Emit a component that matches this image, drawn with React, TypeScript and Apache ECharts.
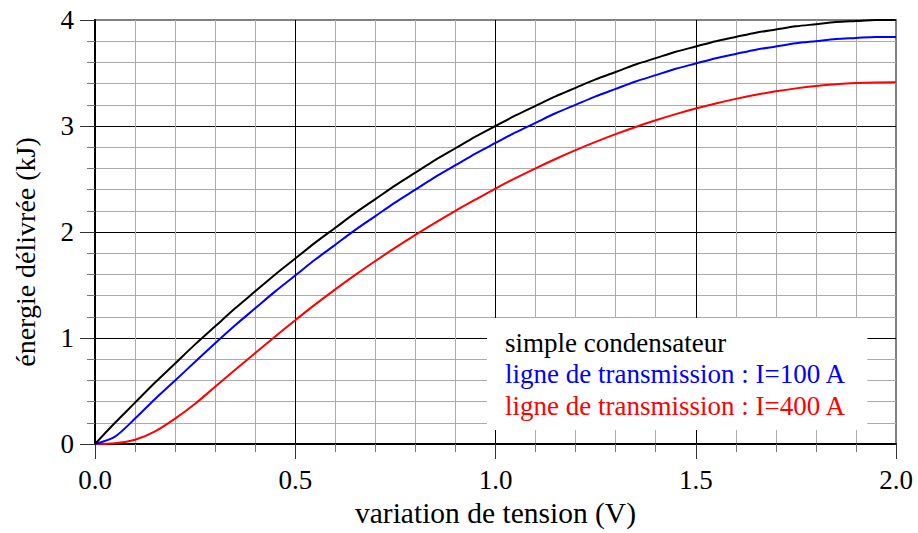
import React, { useEffect, useRef } from "react";
import * as echarts from "echarts";

// Tension variation (V) — sample abscissae (every 0.05 V)
const tension = [
  0, 0.05, 0.1, 0.15, 0.2, 0.25, 0.3, 0.35, 0.4, 0.45, 0.5, 0.55, 0.6, 0.65,
  0.7, 0.75, 0.8, 0.85, 0.9, 0.95, 1.0, 1.05, 1.1, 1.15, 1.2, 1.25, 1.3, 1.35,
  1.4, 1.45, 1.5, 1.55, 1.6, 1.65, 1.7, 1.75, 1.8, 1.85, 1.9, 1.95, 2.0,
];

// Energy delivered (kJ)
const simpleCondensateur = [
  0, 0.2, 0.39, 0.58, 0.76, 0.94, 1.11, 1.28, 1.44, 1.6, 1.75, 1.9, 2.04, 2.18,
  2.31, 2.44, 2.56, 2.68, 2.79, 2.9, 3.0, 3.1, 3.19, 3.28, 3.36, 3.44, 3.51,
  3.58, 3.64, 3.7, 3.75, 3.8, 3.84, 3.88, 3.91, 3.94, 3.96, 3.98, 3.99, 4.0, 4.0,
];
const ligne100 = [
  0, 0.07, 0.24, 0.425, 0.6, 0.775, 0.95, 1.12, 1.28, 1.44, 1.59, 1.74, 1.88,
  2.02, 2.15, 2.28, 2.4, 2.52, 2.63, 2.74, 2.84, 2.94, 3.03, 3.12, 3.2, 3.28,
  3.35, 3.42, 3.48, 3.54, 3.59, 3.64, 3.68, 3.72, 3.75, 3.78, 3.8, 3.82, 3.83,
  3.84, 3.84,
];
const ligne400 = [
  0, 0.006, 0.04, 0.12, 0.24, 0.38, 0.54, 0.7, 0.858, 1.014, 1.168, 1.317,
  1.459, 1.595, 1.726, 1.852, 1.973, 2.089, 2.2, 2.306, 2.41, 2.508, 2.601,
  2.689, 2.772, 2.85, 2.923, 2.991, 3.054, 3.112, 3.165, 3.213, 3.256, 3.294,
  3.327, 3.355, 3.378, 3.395, 3.406, 3.411, 3.412,
];

const seriesNames = [
  "simple condensateur",
  "ligne de transmission : I=100 A",
  "ligne de transmission : I=400 A",
];
const seriesColors = ["#000000", "#0000ff", "#ff0000"];

const xAxisTitle = "variation de tension (V)";
const yAxisTitle = "énergie délivrée (kJ)";

const FONT = "'Liberation Serif', 'Times New Roman', serif";

export default function App() {
  const ref = useRef<HTMLDivElement>(null);

  useEffect(() => {
    if (!ref.current) return;
    const chart = echarts.init(ref.current, null, { renderer: "svg" });
    const allSeries = [simpleCondensateur, ligne100, ligne400];
    chart.setOption({
      animation: false,
      backgroundColor: "#ffffff",
      grid: {
        left: 95,
        right: 22,
        top: 20,
        bottom: 85,
        show: true,
        borderColor: "#808080",
        borderWidth: 2,
        backgroundColor: "transparent",
      },
      legend: {
        orient: "vertical",
        left: 487,
        top: 318,
        backgroundColor: "#ffffff",
        padding: [11, 21, 11, 13],
        itemGap: 4.5,
        itemWidth: 0,
        itemHeight: 0,
        selectedMode: false,
        itemStyle: { opacity: 0 },
        lineStyle: { opacity: 0 },
        textStyle: { fontFamily: FONT, fontSize: 27 },
        data: seriesNames.map((n, i) => ({
          name: n,
          icon: "rect",
          textStyle: { color: seriesColors[i], fontFamily: FONT, fontSize: 27 },
        })),
      },
      xAxis: {
        type: "value",
        min: 0,
        max: 2,
        interval: 0.5,
        name: xAxisTitle,
        nameLocation: "middle",
        nameGap: 54,
        nameTextStyle: { fontFamily: FONT, fontSize: 29.5, color: "#000" },
        axisLine: { show: true, onZero: false, lineStyle: { color: "#000", width: 2 } },
        axisTick: { show: true, length: 15, lineStyle: { color: "#333", width: 1 } },
        minorTick: { show: true, splitNumber: 5, length: 8, lineStyle: { color: "#777", width: 1 } },
        axisLabel: {
          fontFamily: FONT,
          fontSize: 27,
          color: "#000",
          margin: 22,
          formatter: (v: number) => v.toFixed(1),
        },
        splitLine: { show: true, showMaxLine: false, lineStyle: { color: "#000", width: 1 } },
        minorSplitLine: { show: true, lineStyle: { color: "#ababab", width: 1 } },
      },
      yAxis: {
        type: "value",
        min: 0,
        max: 4,
        interval: 1,
        axisLine: { show: true, onZero: false, lineStyle: { color: "#000", width: 2 } },
        axisTick: { show: true, length: 15, lineStyle: { color: "#333", width: 1 } },
        minorTick: { show: true, splitNumber: 5, length: 8, lineStyle: { color: "#777", width: 1 } },
        axisLabel: {
          fontFamily: FONT,
          fontSize: 27,
          color: "#000",
          margin: 21,
        },
        splitLine: { show: true, showMaxLine: false, lineStyle: { color: "#000", width: 1 } },
        minorSplitLine: { show: true, lineStyle: { color: "#ababab", width: 1 } },
      },
      graphic: [
        {
          type: "text",
          x: 25,
          y: 252,
          rotation: Math.PI / 2,
          style: {
            text: yAxisTitle,
            fontFamily: FONT,
            fontSize: 28,
            fill: "#000",
            align: "center",
            verticalAlign: "middle",
          },
        },
      ],
      series: allSeries.map((vals, i) => ({
        name: seriesNames[i],
        type: "line",
        data: tension.map((t, k) => [t, vals[k]]),
        showSymbol: false,
        symbol: "none",
        smooth: 0.3,
        lineStyle: { color: seriesColors[i], width: 2 },
        itemStyle: { color: seriesColors[i] },
        z: 5 - i,
      })),
    });
    return () => chart.dispose();
  }, []);

  return (
    <div
      ref={ref}
      style={{ position: "fixed", left: 0, top: 0, width: 918, height: 533 }}
    />
  );
}
